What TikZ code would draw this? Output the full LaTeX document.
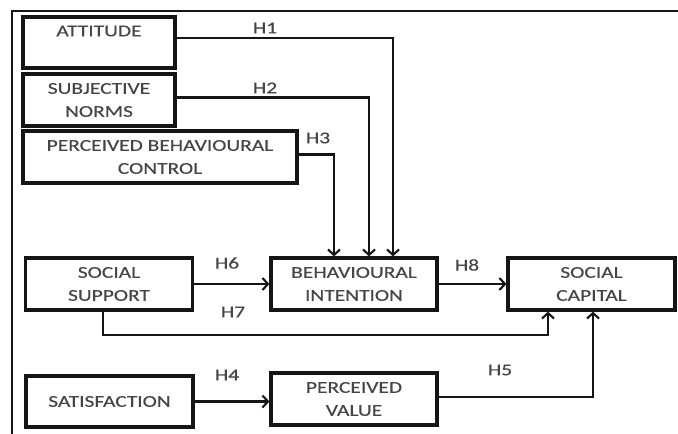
\documentclass[tikz,border=0pt]{standalone}
\usepackage{fontspec}
\setmainfont{Carlito}[FakeStretch=1.3,FakeBold=0.4]
\usetikzlibrary{arrows.meta}
\definecolor{txt}{HTML}{454545}
\definecolor{ln}{HTML}{151515}
\tikzset{
  box/.style={draw=ln, line width=3.2pt, rectangle, align=center, text=txt, inner sep=0pt},
  conn/.style={draw=ln, line width=2.1pt, -{Straight Barb[length=5.5pt,width=12pt]}},
  hyp/.style={text=txt, inner sep=0pt}
}
\begin{document}
\begin{tikzpicture}[x=1pt,y=-1pt, font=\fontsize{16.5}{23}\selectfont]
\useasboundingbox (0,0) rectangle (678,434);
\draw[ln, line width=2.2pt] (12,434) -- (12,11) -- (678,11);

\node[box, minimum width=152pt, minimum height=51pt] (att) at (99,42.5) {ATTITUDE\\\phantom{A}};
\node[box, minimum width=152pt, minimum height=52pt] (sn) at (99,100) {SUBJECTIVE\\NORMS};
\node[box, minimum width=274pt, minimum height=52pt] (pbc) at (160,157) {PERCEIVED BEHAVIOURAL\\CONTROL};
\node[box, minimum width=167pt, minimum height=52pt] (ss) at (109,284) {SOCIAL\\SUPPORT};
\node[box, minimum width=166pt, minimum height=52pt] (bi) at (354,284) {BEHAVIOURAL\\INTENTION};
\node[box, minimum width=167pt, minimum height=52pt] (sc) at (591.5,284) {SOCIAL\\CAPITAL};
\node[box, minimum width=167pt, minimum height=51pt] (sat) at (109.5,401.5) {SATISFACTION};
\node[box, minimum width=166pt, minimum height=52pt] (pv) at (354,399) {PERCEIVED\\VALUE};

\coordinate (h7c) at (548,335);

\draw[conn] ([yshift=4.5pt]att.east) -| ([xshift=39pt]bi.north);
\draw[conn] ([yshift=2.5pt]sn.east) -| ([xshift=15pt]bi.north);
\draw[conn] ([yshift=2.5pt]pbc.east) -| ([xshift=-20pt]bi.north);
\draw[conn] (ss.east) -- (bi.west);
\draw[conn] (bi.east) -- (sc.west);
\draw[conn] ([xshift=-6pt]ss.south) |- (h7c) -- (h7c |- sc.south);
\draw[conn] (sat.east) -- (sat.east -| pv.west);
\draw[conn] ([yshift=2pt]pv.east) -| ([xshift=1.5pt]sc.south);

\node[hyp] (l1) at (265,28) {H1};
\node[hyp] (l2) at (265,88) {H2};
\node[hyp] (l3) at (318,138) {H3};
\node[hyp] (l6) at (227,263) {H6};
\node[hyp] (l7) at (233,312) {H7};
\node[hyp] (l8) at (467,265) {H8};
\node[hyp] (l4) at (227,375) {H4};
\node[hyp] (l5) at (500,370) {H5};
\end{tikzpicture}
\end{document}
